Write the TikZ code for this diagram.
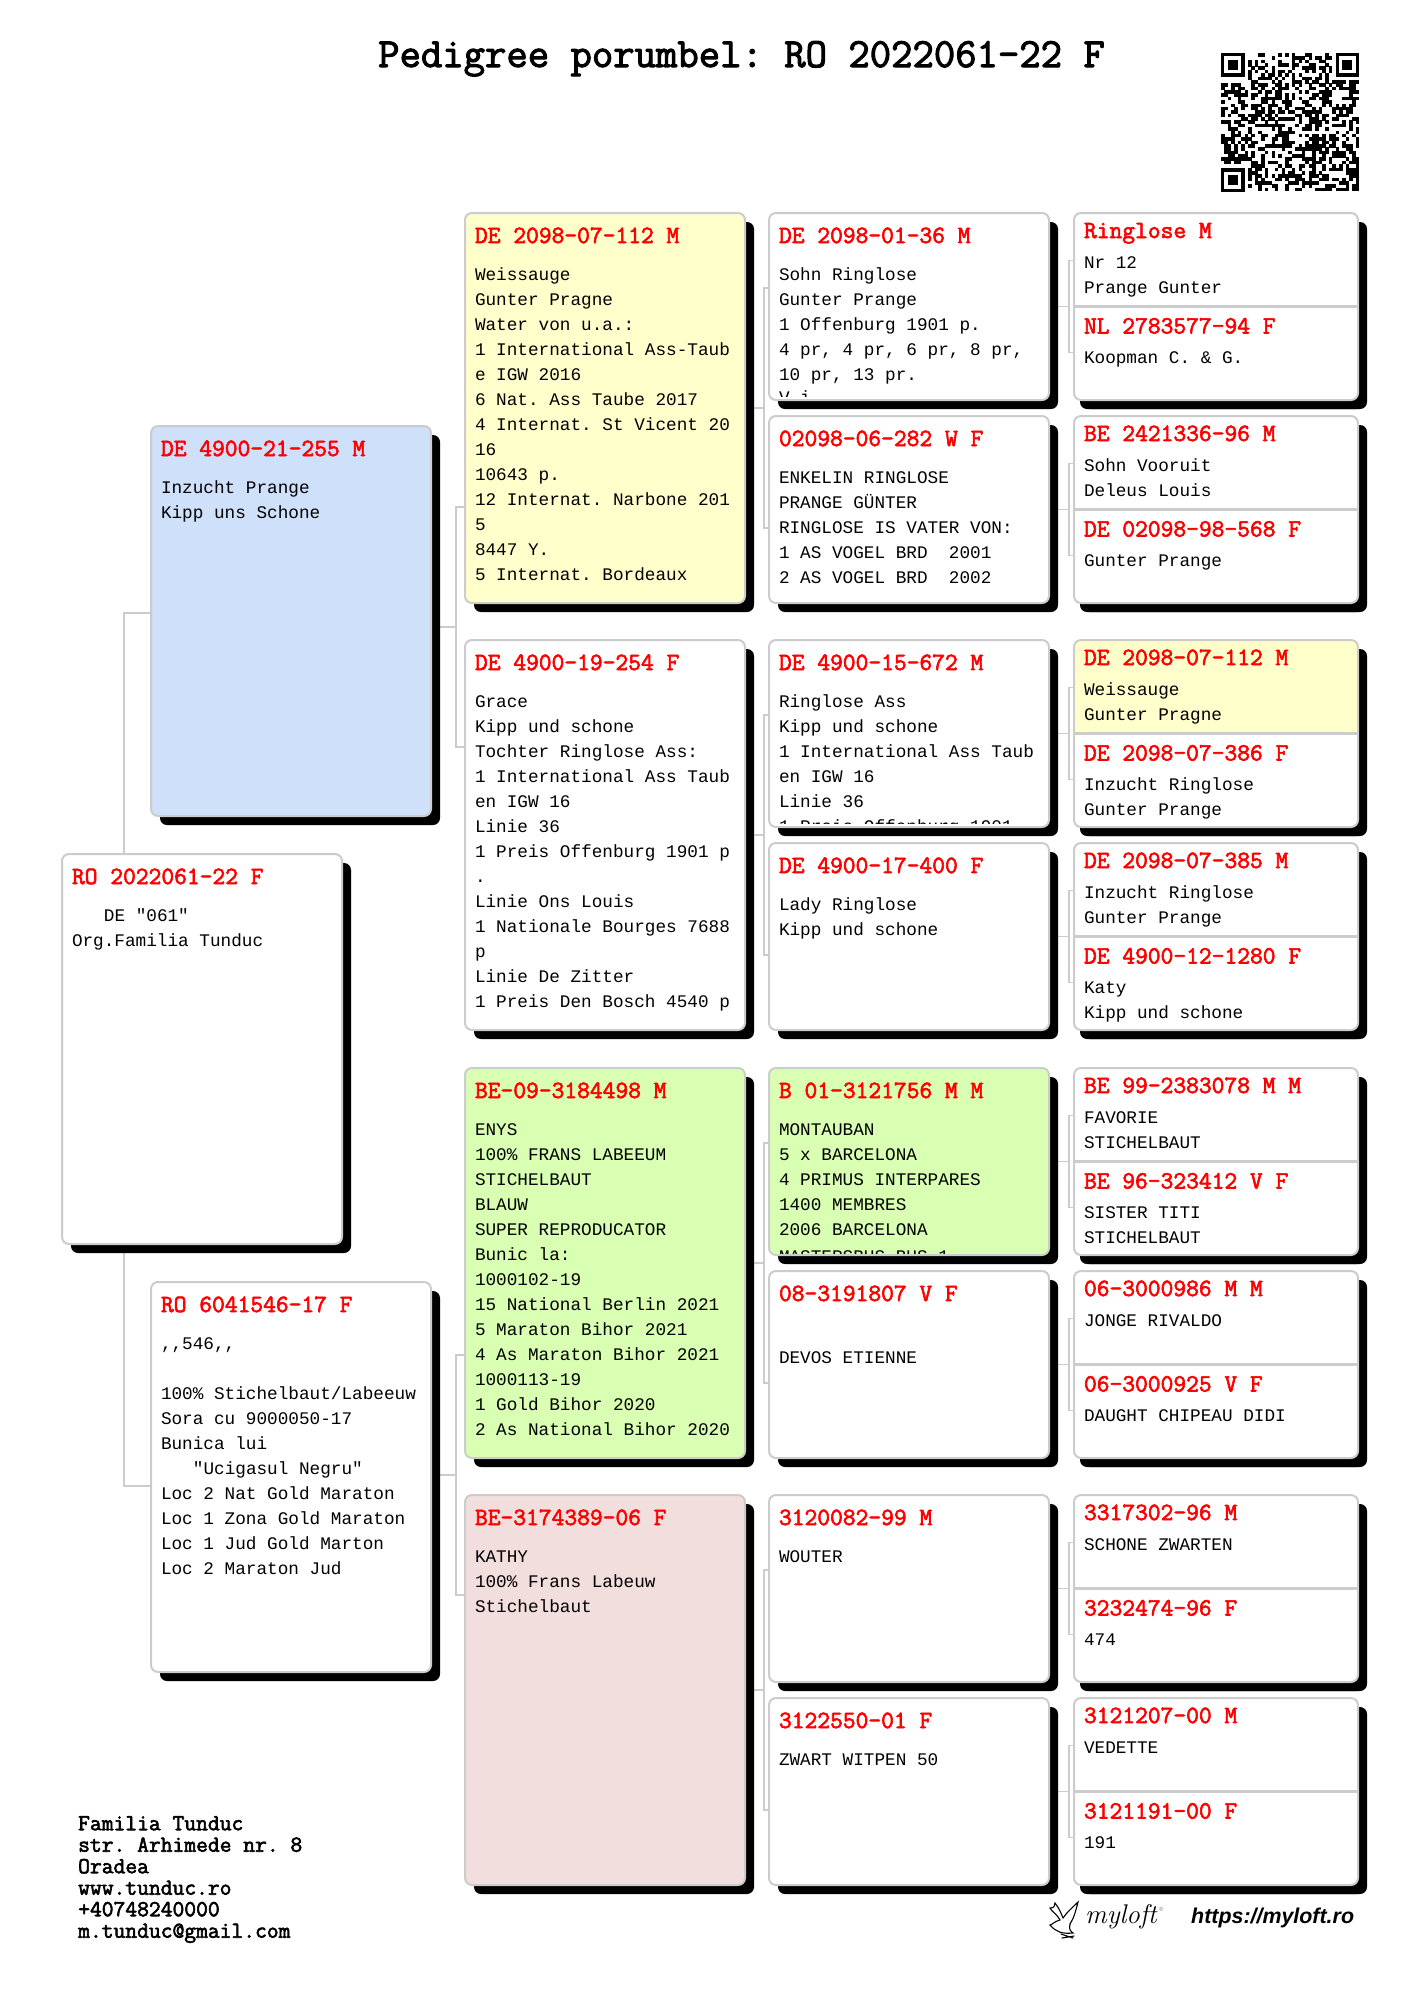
\documentclass[tikz,border=0pt]{standalone}
\usepackage{fontspec}
\newfontfamily\pedfont{Liberation Mono}
\newfontfamily\webfont{Liberation Sans}
\newfontfamily\slabfont[FakeBold=2.5]{Latin Modern Mono}
\usetikzlibrary{positioning,calc,shadows,backgrounds}
\definecolor{pedred}{HTML}{FF0000}
\definecolor{pedgray}{HTML}{CCCCCC}
\definecolor{pedyellow}{HTML}{FFFFCC}
\definecolor{pedblue}{HTML}{CFE0FA}
\definecolor{pedgreen}{HTML}{D8FFB2}
\definecolor{pedpink}{HTML}{F3DEDE}
\newcommand{\pedhead}{\slabfont\fontsize{24.8}{25}\selectfont\color{pedred}}
\newcommand{\pedbody}{\pedfont\mdseries\fontsize{17.7}{25}\selectfont\color{black}}
% carte: inaltime, antet, text
\newcommand{\pedcard}[3][390]{\parbox[t][#1pt][t]{260pt}{\pedhead\rule{0pt}{30pt}#2\par\vspace{12.5pt}\pedbody #3}}
\newcommand{\halfcard}[2]{\parbox[t][93.5pt][t]{264pt}{\pedhead\rule{0pt}{25pt}#1\par\vspace{5pt}\pedbody #2}}
% legatura: [deplasare], parinte, copil sus, copil jos, semi-inaltime, distanta
\newcommand{\pedlink}[6][0]{%
	\coordinate (bend) at ($(#3.west |- #2.east)+(-#6,#1)$);
	\coordinate (bendup) at ($(bend)+(0,-#5)$);
	\coordinate (benddown) at ($(bend)+(0,#5)$);
	\draw[pedline] (#2.east |- bend) -- (bend);
	\draw[pedline] (#3.west |- bendup) -- (bendup) -- (benddown) -- (#4.west |- benddown);
}
\newcommand{\qrfinder}[2]{%
	\fill[black] (#1,#2) rectangle +(23.6,23.6);
	\fill[white] ($(#1,#2)+(3.37,3.37)$) rectangle +(16.85,16.85);
	\fill[black] ($(#1,#2)+(6.74,6.74)$) rectangle +(10.11,10.11);
}
\frenchspacing
\begin{document}
\begin{tikzpicture}[
		x=1pt, y=-1pt,
		pedbox/.style={draw=pedgray, line width=2pt, rounded corners=7pt, fill=white,
			inner xsep=10pt, inner ysep=0pt, outer sep=0pt, anchor=north west,
			general shadow={fill=black, shadow xshift=9pt, shadow yshift=-9pt}},
		pairbox/.style={pedbox, inner sep=0pt, minimum width=284pt, minimum height=187pt,
			general shadow={fill=black, shadow xshift=6pt, shadow yshift=-9pt}},
		halfbox/.style={inner xsep=10pt, inner ysep=0pt, outer sep=0pt, anchor=north west},
		pedline/.style={draw=pedgray, line width=1.6pt},
		pedrule/.style={draw=pedgray, line width=3.5pt},
		tophalf/.style={path picture={\fill[#1] (path picture bounding box.north west) rectangle (path picture bounding box.east);}},
		cutline/.style n args={3}{path picture={
				\clip ([yshift=#2]path picture bounding box.south west) rectangle (path picture bounding box.north east);
				\node[anchor=base west, inner sep=0pt, font=\pedbody] (cuttext) at ([xshift=10pt,yshift=#1]path picture bounding box.south west) {#3};}},
		birdline/.style={draw=black, line width=1.1pt, line cap=round}
		]
		\useasboundingbox (0,0) rectangle (1414,2000);
		
		% Titlu
		\node[anchor=base west, inner sep=0pt, font=\slabfont\fontsize{41.5}{44}\selectfont] (title) at (378,67) {Pedigree porumbel: RO 2022061-22 F};
		
		% Cod QR
		\pgfmathsetseed{2061}
		\foreach \i in {0,...,40}{
			\foreach \j in {0,...,40}{
				\pgfmathtruncatemacro{\qron}{(rnd<0.5) && !((\i<8 && \j<8) || (\i>32 && \j<8) || (\i<8 && \j>32))}
				\ifnum\qron=1
				\fill[black] ({1221+\i*3.37},{53+\j*3.37}) rectangle +(3.55,3.55);
				\fi
			}
		}
		\qrfinder{1221}{53}
		\qrfinder{1335.6}{53}
		\qrfinder{1221}{168.4}
		
		% Porumbel
		\node[pedbox] (Root) at (62,854) {\pedcard{RO 2022061-22 F}{\hspace*{31.9pt}DE "061"\\Org.Familia Tunduc}};
		
		% Parinti
		\node[pedbox, fill=pedblue] (Dad) at (151,426) {\pedcard{DE 4900-21-255 M}{Inzucht Prange\\Kipp uns Schone}};
		\node[pedbox] (Mom) at (151,1282) {\pedcard{RO 6041546-17 F}{,,546,,\\\mbox{}\\100\% Stichelbaut/Labeeuw\\Sora cu 9000050-17\\Bunica lui\\\hspace*{31.9pt}"Ucigasul Negru"\\Loc 2 Nat Gold Maraton\\Loc 1 Zona Gold Maraton\\Loc 1 Jud Gold Marton\\Loc 2 Maraton Jud}};
		
		% Bunici
		\node[pedbox, fill=pedyellow] (GrandA) at (465,213) {\pedcard{DE 2098-07-112 M}{Weissauge\\Gunter Pragne\\Water von u.a.:\\1 International Ass-Taub\\e IGW 2016\\6 Nat. Ass Taube 2017\\4 Internat. St Vicent 20\\16\\10643 p.\\12 Internat. Narbone 201\\5\\8447 Y.\\5 Internat. Bordeaux}};
		\node[pedbox, below=37pt of GrandA] (GrandB) {\pedcard{DE 4900-19-254 F}{Grace\\Kipp und schone\\Tochter Ringlose Ass:\\1 International Ass Taub\\en IGW 16\\Linie 36\\1 Preis Offenburg 1901 p\\.\\Linie Ons Louis\\1 Nationale Bourges 7688\\p\\Linie De Zitter\\1 Preis Den Bosch 4540 p}};
		\node[pedbox, fill=pedgreen] (GrandC) at (465,1068) {\pedcard{BE-09-3184498 M}{ENYS\\100\% FRANS LABEEUM\\STICHELBAUT\\BLAUW\\SUPER REPRODUCATOR\\Bunic la:\\1000102-19\\15 National Berlin 2021\\5 Maraton Bihor 2021\\4 As Maraton Bihor 2021\\1000113-19\\1 Gold Bihor 2020\\2 As National Bihor 2020}};
		\node[pedbox, fill=pedpink, below=37pt of GrandC] (GrandD) {\pedcard{BE-3174389-06 F}{KATHY\\100\% Frans Labeuw\\Stichelbaut}};
		
		% Strabunici
		\node[pedbox, cutline={-3}{4}{V i}] (GreatA) at (769,213) {\pedcard[187]{DE 2098-01-36 M}{Sohn Ringlose\\Gunter Prange\\1 Offenburg 1901 p.\\4 pr, 4 pr, 6 pr, 8 pr,\\10 pr, 13 pr.}};
		\node[pedbox, below=16pt of GreatA] (GreatB) {\pedcard[187]{02098-06-282 W F}{ENKELIN RINGLOSE\\PRANGE GÜNTER\\RINGLOSE IS VATER VON:\\1 AS VOGEL BRD~~2001\\2 AS VOGEL BRD~~2002}};
		\node[pedbox, cutline={-5}{4}{1 Preis Offenburg 1901}] (GreatC) at (769,640) {\pedcard[187]{DE 4900-15-672 M}{Ringlose Ass\\Kipp und schone\\1 International Ass Taub\\en IGW 16\\Linie 36}};
		\node[pedbox, below=16pt of GreatC] (GreatD) {\pedcard[187]{DE 4900-17-400 F}{Lady Ringlose\\Kipp und schone}};
		\node[pedbox, fill=pedgreen, cutline={-7}{1}{MASTERSBUS BUS 1}] (GreatE) at (769,1068) {\pedcard[187]{B 01-3121756 M M}{MONTAUBAN\\5 x BARCELONA\\4 PRIMUS INTERPARES\\1400 MEMBRES\\2006 BARCELONA}};
		\node[pedbox, below=16pt of GreatE] (GreatF) {\pedcard[187]{08-3191807 V F}{\mbox{}\\DEVOS ETIENNE}};
		\node[pedbox] (GreatG) at (769,1495) {\pedcard[187]{3120082-99 M}{WOUTER}};
		\node[pedbox, below=16pt of GreatG] (GreatH) {\pedcard[187]{3122550-01 F}{ZWART WITPEN 50}};
		
		% Perechi de stramosi
		\node[pairbox] (PairA) at (1074,213) {};
		\node[halfbox] (PairAm) at (PairA.north west) {\halfcard{Ringlose M}{Nr 12\\Prange Gunter}};
		\node[halfbox, below=2pt of PairAm] (PairAf) {\halfcard{NL 2783577-94 F}{Koopman C. \& G.}};
		\node[pairbox] (PairB) at (1074,416) {};
		\node[halfbox] (PairBm) at (PairB.north west) {\halfcard{BE 2421336-96 M}{Sohn Vooruit\\Deleus Louis}};
		\node[halfbox, below=2pt of PairBm] (PairBf) {\halfcard{DE 02098-98-568 F}{Gunter Prange}};
		\node[pairbox, tophalf=pedyellow] (PairC) at (1074,640) {};
		\node[halfbox] (PairCm) at (PairC.north west) {\halfcard{DE 2098-07-112 M}{Weissauge\\Gunter Pragne}};
		\node[halfbox, below=2pt of PairCm] (PairCf) {\halfcard{DE 2098-07-386 F}{Inzucht Ringlose\\Gunter Prange}};
		\node[pairbox] (PairD) at (1074,843) {};
		\node[halfbox] (PairDm) at (PairD.north west) {\halfcard{DE 2098-07-385 M}{Inzucht Ringlose\\Gunter Prange}};
		\node[halfbox, below=2pt of PairDm] (PairDf) {\halfcard{DE 4900-12-1280 F}{Katy\\Kipp und schone}};
		\node[pairbox] (PairE) at (1074,1068) {};
		\node[halfbox] (PairEm) at (PairE.north west) {\halfcard{BE 99-2383078 M M}{FAVORIE\\STICHELBAUT}};
		\node[halfbox, below=2pt of PairEm] (PairEf) {\halfcard{BE 96-323412 V F}{SISTER TITI\\STICHELBAUT}};
		\node[pairbox] (PairF) at (1074,1271) {};
		\node[halfbox] (PairFm) at (PairF.north west) {\halfcard{06-3000986 M M}{JONGE RIVALDO}};
		\node[halfbox, below=2pt of PairFm] (PairFf) {\halfcard{06-3000925 V F}{DAUGHT CHIPEAU DIDI}};
		\node[pairbox] (PairG) at (1074,1495) {};
		\node[halfbox] (PairGm) at (PairG.north west) {\halfcard{3317302-96 M}{SCHONE ZWARTEN}};
		\node[halfbox, below=2pt of PairGm] (PairGf) {\halfcard{3232474-96 F}{474}};
		\node[pairbox] (PairH) at (1074,1698) {};
		\node[halfbox] (PairHm) at (PairH.north west) {\halfcard{3121207-00 M}{VEDETTE}};
		\node[halfbox, below=2pt of PairHm] (PairHf) {\halfcard{3121191-00 F}{191}};
		
		% Linii intre jumatati
		\foreach \pair in {A,B,C,D,E,F,G,H}{
			\draw[pedrule] (Pair\pair.west) -- (Pair\pair.east);
		}
		
		% Adresa si sigla
		\node[anchor=north west, inner sep=0pt, align=left, font=\slabfont\fontsize{22.9}{21.5}\selectfont] (addr) at (78,1816) {Familia Tunduc\\str. Arhimede nr. 8\\Oradea\\www.tunduc.ro\\+40748240000\\m.tunduc@gmail.com};
		\node[anchor=base west, inner sep=0pt, font=\webfont\bfseries\itshape\fontsize{21.4}{24}\selectfont] (web) at (1191,1923) {https://myloft.ro};
		\node[anchor=base west, inner sep=0pt, font=\itshape\fontsize{27}{30}\selectfont] (logo) at (1085,1923) {myloft};
		\node[anchor=base west, inner sep=0pt, text=gray, font=\webfont\fontsize{6}{7}\selectfont] (logomark) at (1159,1911) {®};
		\draw[birdline] (1060,1920) .. controls (1056,1913) and (1052,1912) .. (1050,1908) .. controls (1054,1908) and (1055,1906) .. (1055,1903) .. controls (1059,1908) and (1061,1913) .. (1063,1918);
		\draw[birdline] (1063,1918) .. controls (1067,1912) and (1072,1908) .. (1078,1902) .. controls (1076,1910) and (1074,1918) .. (1070,1924);
		\draw[birdline] (1060,1920) .. controls (1053,1922) and (1052,1925) .. (1050,1925) .. controls (1056,1932) and (1062,1934) .. (1073,1933) .. controls (1068,1930) and (1070,1926) .. (1070,1924);
		\draw[birdline] (1061,1934) -- (1073,1938) (1062,1938) -- (1074,1936);
		
		% Legaturi
		\begin{scope}[on background layer]
			\draw[pedline] ($(Root.north west)+(62,0)$) |- ($(Dad.west)+(0,-8)$);
			\draw[pedline] ($(Root.south west)+(62,0)$) |- ($(Mom.west)+(0,9)$);
			\pedlink[6]{Dad}{GrandA}{GrandB}{120}{9}
			\pedlink[-2]{Mom}{GrandC}{GrandD}{120}{9}
			\pedlink{GrandA}{GreatA}{GreatB}{120}{5}
			\pedlink{GrandB}{GreatC}{GreatD}{120}{5}
			\pedlink{GrandC}{GreatE}{GreatF}{120}{5}
			\pedlink{GrandD}{GreatG}{GreatH}{120}{5}
			\pedlink{GreatA}{PairAm}{PairAf}{46}{5}
			\pedlink{GreatB}{PairBm}{PairBf}{46}{5}
			\pedlink{GreatC}{PairCm}{PairCf}{46}{5}
			\pedlink{GreatD}{PairDm}{PairDf}{46}{5}
			\pedlink{GreatE}{PairEm}{PairEf}{46}{5}
			\pedlink{GreatF}{PairFm}{PairFf}{46}{5}
			\pedlink{GreatG}{PairGm}{PairGf}{46}{5}
			\pedlink{GreatH}{PairHm}{PairHf}{46}{5}
		\end{scope}
	\end{tikzpicture}
\end{document}
